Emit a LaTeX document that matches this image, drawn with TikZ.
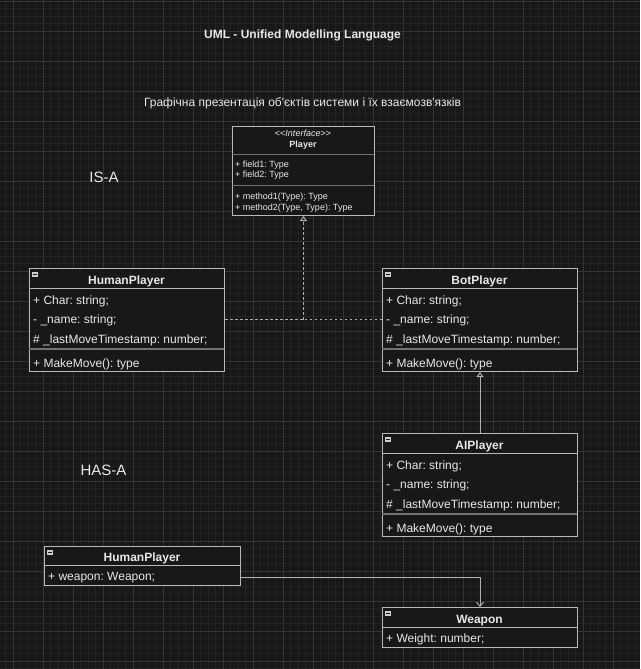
\documentclass[tikz,border=0pt]{standalone}
\usepackage{fontspec}
\setmainfont{Liberation Sans}
\usetikzlibrary{arrows.meta}
\definecolor{uml@bg}{RGB}{24,24,24}
\definecolor{uml@minor}{RGB}{34,34,34}
\definecolor{uml@major}{RGB}{52,52,52}
\definecolor{uml@line}{RGB}{185,185,185}
\definecolor{uml@sep}{RGB}{115,115,115}
\definecolor{uml@text}{RGB}{232,232,232}
\definecolor{uml@edge}{RGB}{175,175,175}
\definecolor{uml@icon}{RGB}{205,205,205}

\begin{document}
\frenchspacing
\begin{tikzpicture}[x=1pt, y=-1pt,
  classbox/.style={draw=uml@line, fill=uml@bg, line width=1pt, inner sep=0pt, anchor=north west},
  classline/.style={draw=uml@line, line width=1pt},
  classsep/.style={draw=uml@sep, line width=1.6pt},
  classname/.style={anchor=base, inner sep=0pt, text=uml@text, font=\bfseries\fontsize{12}{14}\selectfont},
  member/.style={anchor=base west, inner sep=0pt, text=uml@text, font=\fontsize{12}{14}\selectfont},
  tinyname/.style={anchor=base, inner sep=0pt, text=uml@text, font=\fontsize{9}{11}\selectfont},
  tinymember/.style={anchor=base west, inner sep=0pt, text=uml@text, font=\fontsize{9}{11}\selectfont},
  bigtext/.style={inner sep=0pt, text=uml@text, font=\fontsize{15}{18}\selectfont},
  realize/.style={draw=uml@edge, line width=1pt, dash pattern=on 2.5pt off 2.5pt},
  inherit/.style={draw=uml@edge, line width=1pt, -{Triangle[length=5pt, width=7pt, fill=uml@bg]}},
  assoc/.style={draw=uml@edge, line width=1pt, -{Straight Barb[length=4pt, width=7pt]}},
]

\useasboundingbox (0,0) rectangle (640,669);
\fill[uml@bg] (0,0) rectangle (640,669);

% grid
\foreach \i in {0,...,86} \draw[uml@minor, line width=1pt] ({-1.7+7.5*\i},0) -- ({-1.7+7.5*\i},669);
\foreach \i in {0,...,89} \draw[uml@minor, line width=1pt] (0,{1.3+7.5*\i}) -- (640,{1.3+7.5*\i});
\foreach \i in {0,...,21} \draw[uml@major, line width=1pt] ({13.3+30*\i},0) -- ({13.3+30*\i},669);
\foreach \i in {0,...,22} \draw[uml@major, line width=1pt] (0,{1.3+30*\i}) -- (640,{1.3+30*\i});

\node[inner sep=0pt, text=uml@text, font=\bfseries\fontsize{12}{14}\selectfont] (title) at (302.5,35)
  {UML - Unified Modelling Language};
\node[inner sep=0pt, text=uml@text, font=\fontsize{12}{14}\selectfont] (subtitle) at (302.5,103)
  {Графічна презентація об\textquotesingle єктів системи і їх взаємозв\textquotesingle язків};
\node[bigtext] (isa) at (104,177) {IS-A};
\node[bigtext] (hasa) at (103.5,470) {HAS-A};

% Player
\begin{scope}[shift={(232,126)}]
  \node[classbox, minimum width=142, minimum height=89] (player) at (0,0) {};
  \node[tinyname] (player-stereo) at (71,10.5) {{<}{<}\textit{Interface}{>}{>}};
  \node[tinyname, font=\bfseries\fontsize{9}{11}\selectfont] (player-title) at (71,21) {Player};
  \draw[classsep] (0,28.5) -- (142,28.5);
  \node[tinymember] (player-f1) at (3,41) {+ field1: Type};
  \node[tinymember] (player-f2) at (3,51.5) {+ field2: Type};
  \draw[classsep] (0,59.5) -- (142,59.5);
  \node[tinymember] (player-m1) at (3,73.5) {+ method1(Type): Type};
  \node[tinymember] (player-m2) at (3,84) {+ method2(Type, Type): Type};
\end{scope}

% HumanPlayer
\begin{scope}[shift={(29,268)}]
  \node[classbox, minimum width=195, minimum height=103] (human) at (0,0) {};
  \fill[uml@icon] (3,4) rectangle (9,9);
  \draw[uml@bg, line width=0.8pt] (4,6.5) -- (8,6.5);
  \node[classname] (human-title) at (97.5,16) {HumanPlayer};
  \draw[classline] (0,20) -- (195,20);
  \node[member] (human-char) at (4,36) {+ Char: string;};
  \node[member] (human-name) at (4,55) {- \_name: string;};
  \node[member] (human-time) at (4,75) {\# \_lastMoveTimestamp: number;};
  \draw[classsep] (0,81) -- (195,81);
  \node[member] (human-move) at (4,99.5) {+ MakeMove(): type};
\end{scope}

% BotPlayer
\begin{scope}[shift={(382,268)}]
  \node[classbox, minimum width=195, minimum height=103] (bot) at (0,0) {};
  \fill[uml@icon] (3,4) rectangle (9,9);
  \draw[uml@bg, line width=0.8pt] (4,6.5) -- (8,6.5);
  \node[classname] (bot-title) at (97.5,16) {BotPlayer};
  \draw[classline] (0,20) -- (195,20);
  \node[member] (bot-char) at (4,36) {+ Char: string;};
  \node[member] (bot-name) at (4,55) {- \_name: string;};
  \node[member] (bot-time) at (4,75) {\# \_lastMoveTimestamp: number;};
  \draw[classsep] (0,81) -- (195,81);
  \node[member] (bot-move) at (4,99.5) {+ MakeMove(): type};
\end{scope}

% AIPlayer
\begin{scope}[shift={(382,433)}]
  \node[classbox, minimum width=195, minimum height=103] (ai) at (0,0) {};
  \fill[uml@icon] (3,4) rectangle (9,9);
  \draw[uml@bg, line width=0.8pt] (4,6.5) -- (8,6.5);
  \node[classname] (ai-title) at (97.5,16) {AIPlayer};
  \draw[classline] (0,20) -- (195,20);
  \node[member] (ai-char) at (4,36) {+ Char: string;};
  \node[member] (ai-name) at (4,55) {- \_name: string;};
  \node[member] (ai-time) at (4,75) {\# \_lastMoveTimestamp: number;};
  \draw[classsep] (0,81) -- (195,81);
  \node[member] (ai-move) at (4,99.5) {+ MakeMove(): type};
\end{scope}

% HumanPlayer with a weapon
\begin{scope}[shift={(44,546)}]
  \node[classbox, minimum width=196, minimum height=39] (holder) at (0,0) {};
  \fill[uml@icon] (3,4) rectangle (9,9);
  \draw[uml@bg, line width=0.8pt] (4,6.5) -- (8,6.5);
  \node[classname] (holder-title) at (98,15.5) {HumanPlayer};
  \draw[classline] (0,19.5) -- (196,19.5);
  \node[member] (holder-weapon) at (4,34) {+ weapon: Weapon;};
\end{scope}

% Weapon
\begin{scope}[shift={(382,607)}]
  \node[classbox, minimum width=195, minimum height=40] (weapon) at (0,0) {};
  \fill[uml@icon] (3,4) rectangle (9,9);
  \draw[uml@bg, line width=0.8pt] (4,6.5) -- (8,6.5);
  \node[classname] (weapon-title) at (97.5,16.5) {Weapon};
  \draw[classline] (0,20) -- (195,20);
  \node[member] (weapon-weight) at (4,35.5) {+ Weight: number;};
\end{scope}

% IS-A links
\coordinate (join) at (player.south |- human-name);
\draw[realize] (human.east |- human-name) -- (join);
\draw[realize] (bot.west |- bot-name) -- (join);
\draw[realize, -{Triangle[length=5pt, width=7pt, fill=uml@bg]}] (join) -- (player.south);
\draw[inherit] (ai.north) -- (bot.south);

% HAS-A link
\draw[assoc] (holder.east |- holder-weapon) -| (weapon.north);

\end{tikzpicture}
\end{document}
